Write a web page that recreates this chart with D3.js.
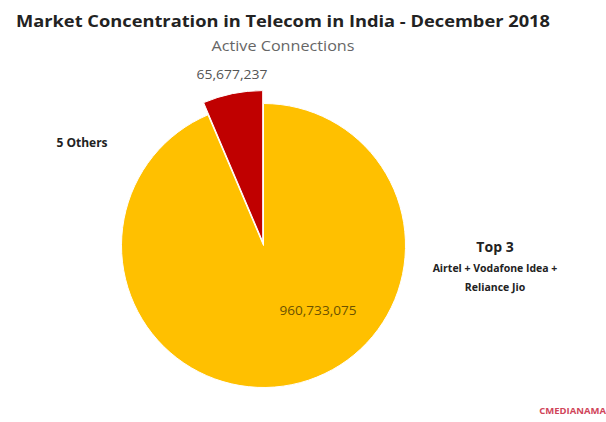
<!DOCTYPE html>
<html>
<head>
<meta charset="utf-8">
<script src="https://cdn.jsdelivr.net/npm/d3@7"></script>
<style>
  body { margin: 0; background: #fff; }
  svg { display: block; font-family: "Open Sans", sans-serif; }
</style>
</head>
<body>
<div id="chart"></div>
<script>
// data
const segments = ["5 Others", "Top 3"];
const connections = [65677237, 960733075];
const colours = ["#C00000", "#FFC000"];

const width = 606, height = 422;
const cx = 263.5, cy = 245.5, radius = 142;

const svg = d3.select("#chart").append("svg")
    .attr("width", width)
    .attr("height", height);

// Title
svg.append("text")
    .attr("x", 283).attr("y", 27)
    .attr("text-anchor", "middle")
    .attr("font-size", "16px")
    .attr("font-weight", "700")
    .attr("fill", "#222")
    .attr("textLength", 534)
    .attr("lengthAdjust", "spacingAndGlyphs")
    .text("Market Concentration in Telecom in India -  December 2018");

svg.append("text")
    .attr("x", 283).attr("y", 51)
    .attr("text-anchor", "middle")
    .attr("font-size", "14px")
    .attr("fill", "#666")
    .attr("textLength", 143)
    .attr("lengthAdjust", "spacingAndGlyphs")
    .text("Active Connections");

// pie, starting at 12 o'clock going counter-clockwise for the small slice
const pie = d3.pie().sort(null)
    .startAngle(0).endAngle(-2 * Math.PI);
const arcs = pie(connections);

const g = svg.append("g").attr("transform", `translate(${cx},${cy})`);

const arcMain = d3.arc().innerRadius(0).outerRadius(radius);
const arcBig = d3.arc().innerRadius(0).outerRadius(radius + 9);

g.selectAll("path")
    .data(arcs)
    .join("path")
    .attr("d", (d, i) => i === 0 ? arcBig(d) : arcMain(d))
    .attr("fill", (d, i) => colours[i])
    .attr("stroke", "#fff")
    .attr("stroke-width", 1)
    .attr("transform", (d, i) => {
        if (i !== 0) return null;
        const mid = (d.startAngle + d.endAngle) / 2;
        const off = 4;
        return `translate(${Math.sin(mid) * off},${-Math.cos(mid) * off})`;
    });

// value labels
const fmt = d3.format(",");
svg.append("text")
    .attr("x", 232).attr("y", 79)
    .attr("text-anchor", "middle")
    .attr("font-size", "12.5px")
    .attr("fill", "#555")
    .attr("textLength", 71)
    .attr("lengthAdjust", "spacingAndGlyphs")
    .text(fmt(connections[0]));

svg.append("text")
    .attr("x", 318).attr("y", 315)
    .attr("text-anchor", "middle")
    .attr("font-size", "12.5px")
    .attr("fill", "#6b5200")
    .attr("textLength", 77)
    .attr("lengthAdjust", "spacingAndGlyphs")
    .text(fmt(connections[1]));

// category labels
svg.append("text")
    .attr("x", 82).attr("y", 147)
    .attr("text-anchor", "middle")
    .attr("font-size", "12px")
    .attr("font-weight", "700")
    .attr("fill", "#222")
    .text(segments[0]);

const top3 = svg.append("text")
    .attr("text-anchor", "middle")
    .attr("font-weight", "700")
    .attr("fill", "#222");
top3.append("tspan").attr("x", 495).attr("y", 252)
    .attr("font-size", "14px").text(segments[1]);
top3.append("tspan").attr("x", 495).attr("y", 272)
    .attr("font-size", "10.5px").text("Airtel + Vodafone Idea +");
top3.append("tspan").attr("x", 495).attr("y", 291)
    .attr("font-size", "10.5px").text("Reliance Jio");

// source mark
svg.append("text")
    .attr("x", 606).attr("y", 414)
    .attr("text-anchor", "end")
    .attr("font-size", "9.5px")
    .attr("font-weight", "700")
    .attr("fill", "#d0455a")
    .text("CMEDIANAMA");
</script>
</body>
</html>
